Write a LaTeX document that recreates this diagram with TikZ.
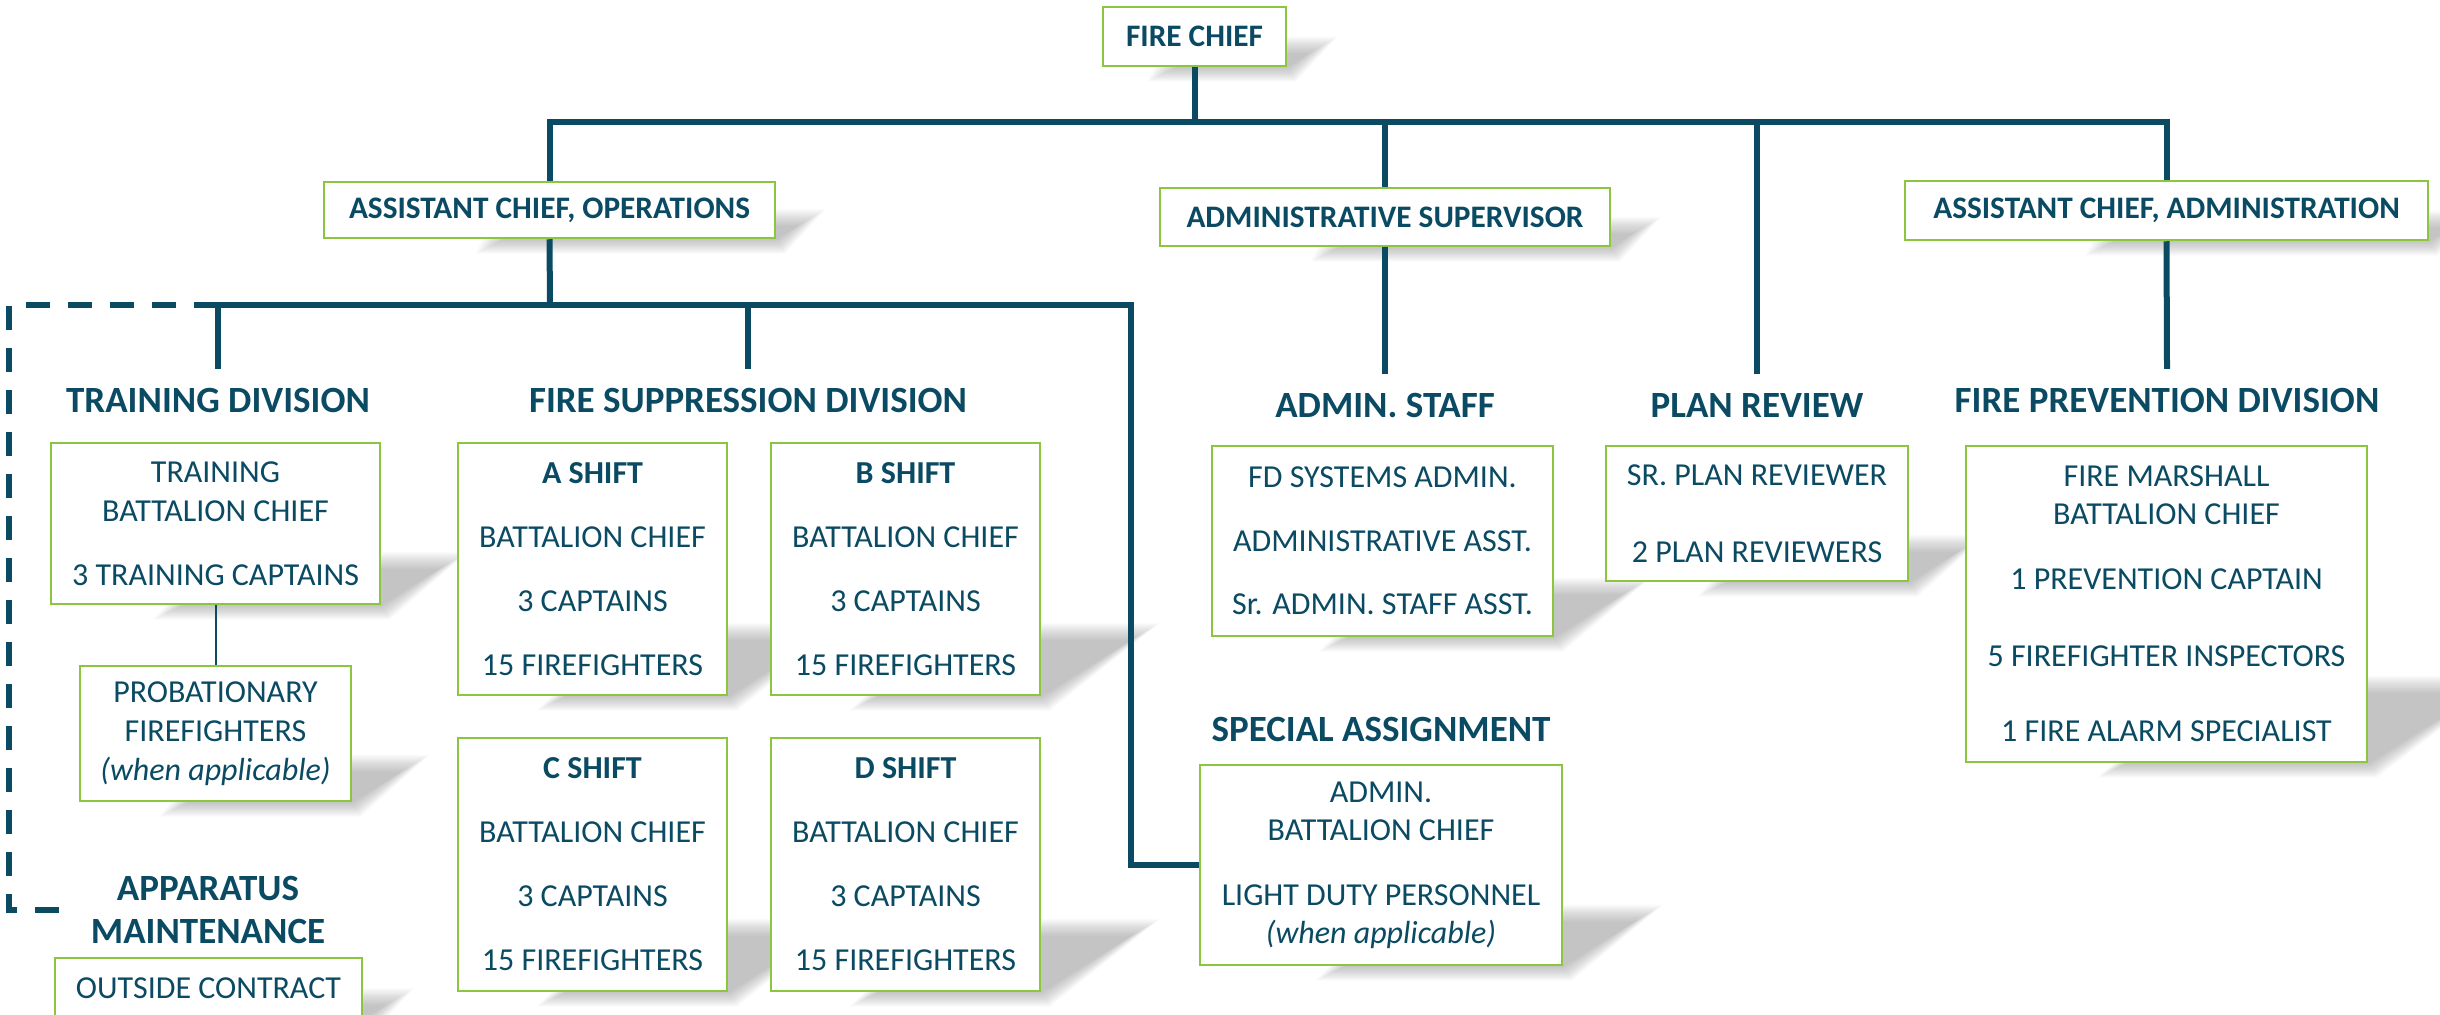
\documentclass[tikz,border=0pt]{standalone}
\usepackage{fontspec}
\setmainfont{Carlito}
\usetikzlibrary{backgrounds,calc}
\definecolor{navy}{HTML}{0A4A62}
\definecolor{leaf}{HTML}{8CC63F}
\tikzset{
 orgbox/.style={draw=leaf, line width=2.5pt, fill=white, inner sep=0pt, align=center, text=navy},
 ttl/.style={orgbox, font=\fontsize{31.3pt}{37pt}\selectfont\bfseries},
 body/.style={orgbox, font={\fontsize{32pt}{#1}\selectfont}},
 hd/.style={font=\fontsize{37pt}{43pt}\selectfont\bfseries, text=navy, inner xsep=0pt, inner ysep=19pt, text height=24pt, text depth=0pt},
 hdtwo/.style={font=\fontsize{37pt}{43pt}\selectfont\bfseries, text=navy, inner sep=0pt, align=center},
 conn/.style={draw=navy, line width=6pt},
 thinconn/.style={draw=navy, line width=2pt},
 dashconn/.style={draw=navy, line width=6pt, dash pattern=on 24pt off 18pt},
}
\newcommand\castshadow[1]{%
 \begin{scope}[on background layer]
 \foreach \k in {0,...,16}{%
  \fill[black, opacity=0.017] let \p1=(#1.south east), \p2=(#1.north west),
     \n1={0.22*(\y2-\y1)}, \n4={1.6*\n1}, \n2={0.6*(\x1-\x2)}, \n3={\k*1.8} in
     (\x1-\n2-\n3, \y1-0.5*\n3) -- (\x1+0.3*\n3, \y1-0.5*\n3) -- (\x1+\n4+\n3, \y1+\n1+0.6*\n3)
     -- (\x1-\n2+\n4-\n3, \y1+\n1+0.6*\n3) -- cycle;
 }
 \end{scope}}
\begin{document}
\begin{tikzpicture}[x=1pt, y=-1pt]
\useasboundingbox (0,0) rectangle (2440,1014);

% top level
\node[ttl, minimum width=183pt, minimum height=59pt] (chief) at (1194.5,36.5) {FIRE CHIEF};
\node[ttl, minimum width=451pt, minimum height=56pt] (aco) at (549.5,210) {ASSISTANT CHIEF, OPERATIONS};
\node[ttl, minimum width=450pt, minimum height=58pt] (asup) at (1385,217) {ADMINISTRATIVE SUPERVISOR};
\node[ttl, minimum width=523pt, minimum height=59pt] (aca) at (2166.5,210.5) {ASSISTANT CHIEF, ADMINISTRATION};

% headings
\node[hd] (trainhd) at (218,400) {TRAINING DIVISION};
\node[hd] (fsdhd) at (748,400) {FIRE SUPPRESSION DIVISION};
\node[hd] (staffhd) at (1385,405) {ADMIN. STAFF};
\node[hd] (planhd) at (1757,405) {PLAN REVIEW};
\node[hd] (fpdhd) at (2167,400) {FIRE PREVENTION DIVISION};
\node[hd] (sahd) at (1381,729) {SPECIAL ASSIGNMENT};
\node[hdtwo] (apphd) at (208,910) {APPARATUS\\MAINTENANCE};

% boxes
\node[body=39pt, minimum width=329pt, minimum height=161pt] (train) at (215.5,523.5)
  {TRAINING\\BATTALION CHIEF\\[25pt]3 TRAINING CAPTAINS};
\node[body=39pt, minimum width=271pt, minimum height=135pt] (prob) at (215.5,733.5)
  {PROBATIONARY\\FIREFIGHTERS\\\textit{(when applicable)}};
\node[body=39pt, minimum width=307pt, minimum height=60pt] (outside) at (208.5,988)
  {OUTSIDE CONTRACT};
\node[body=64pt, minimum width=269pt, minimum height=252pt] (ashift) at (592.5,569)
  {\textbf{A SHIFT}\\BATTALION CHIEF\\3 CAPTAINS\\15 FIREFIGHTERS};
\node[body=64pt, minimum width=269pt, minimum height=252pt] (bshift) at (905.5,569)
  {\textbf{B SHIFT}\\BATTALION CHIEF\\3 CAPTAINS\\15 FIREFIGHTERS};
\node[body=64pt, minimum width=269pt, minimum height=253pt] (cshift) at (592.5,864.5)
  {\textbf{C SHIFT}\\BATTALION CHIEF\\3 CAPTAINS\\15 FIREFIGHTERS};
\node[body=64pt, minimum width=269pt, minimum height=253pt] (dshift) at (905.5,864.5)
  {\textbf{D SHIFT}\\BATTALION CHIEF\\3 CAPTAINS\\15 FIREFIGHTERS};
\node[body=63.5pt, minimum width=341pt, minimum height=190pt] (staff) at (1382.5,541)
  {FD SYSTEMS ADMIN.\\ADMINISTRATIVE ASST.\\Sr. ADMIN. STAFF ASST.};
\node[body=77pt, minimum width=302pt, minimum height=135pt] (plan) at (1757,513.5)
  {SR. PLAN REVIEWER\\2 PLAN REVIEWERS};
\node[body=38pt, minimum width=401pt, minimum height=316pt] (fpd) at (2166.5,604)
  {FIRE MARSHALL\\BATTALION CHIEF\\[27pt]1 PREVENTION CAPTAIN\\[39pt]5 FIREFIGHTER INSPECTORS\\[37pt]1 FIRE ALARM SPECIALIST};
\node[body=38pt, minimum width=362pt, minimum height=200pt] (sa) at (1381,865)
  {ADMIN.\\BATTALION CHIEF\\[27pt]LIGHT DUTY PERSONNEL\\\textit{(when applicable)}};

\foreach \b in {chief,aco,asup,aca,train,prob,outside,ashift,bshift,cshift,dshift,staff,plan,fpd,sa}{\castshadow{\b}}

% connectors
\coordinate (topbar) at (1195,122);
\coordinate (opsbar) at (550,305);
\coordinate (saturn) at (1131,305);
\coordinate (dashtop) at (9,305);
\coordinate (dashend) at (65,910);

\draw[conn] (chief.south) -- (chief.south |- topbar);
\draw[conn] (aco.north) -- (aco.north |- topbar) -- (aca.north |- topbar) -- (aca.north);
\draw[conn] (asup.north) -- (asup.north |- topbar);
\draw[conn] (planhd.north) -- (planhd.north |- topbar);
\draw[conn] (asup.south) -- (staffhd.north);
\draw[conn] (aca.south) -- (fpdhd.north);
\draw[conn] (aco.south) -- (opsbar);
\draw[conn] (trainhd.north) |- (saturn) |- (sa.west);
\draw[conn] (fsdhd.north) -- (fsdhd.north |- opsbar);
\draw[thinconn] (train.south) -- (prob.north);
\draw[dashconn] (trainhd.north |- opsbar) -- (dashtop) |- (dashend);
\end{tikzpicture}
\end{document}
